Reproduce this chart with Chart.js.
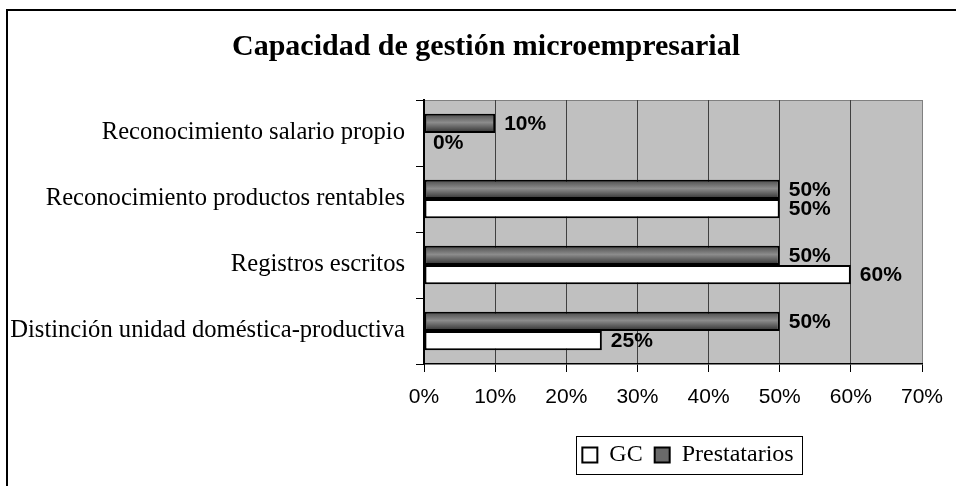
<!DOCTYPE html>
<html lang="es">
<head>
<meta charset="utf-8">
<title>Capacidad de gestión microempresarial</title>
<script src="https://cdn.jsdelivr.net/npm/chart.js"></script>
<style>
    html, body { margin: 0; padding: 0; background: #ffffff; }
    .chart-container { width: 956px; height: 486px; position: relative; }
</style>
</head>
<body>
<div class="chart-container">
    <canvas id="grafica-gestion"></canvas>
</div>
<script>
//Datos de la gráfica
const categorias = [
    'Reconocimiento salario propio',
    'Reconocimiento productos rentables',
    'Registros escritos',
    'Distinción unidad doméstica-productiva'
];
const valoresPrestatarios = [10, 50, 50, 50];
const valoresGC = [0, 50, 60, 25];
const marcasEje = [0, 10, 20, 30, 40, 50, 60, 70];

const PORCENTAJE_CATEGORIA = 0.58;

//Degradado de las barras oscuras, calculado desde la escala
function rellenoPrestatarios(context) {
    const chart = context.chart;
    const escalaY = chart.scales.y;
    if (!escalaY || context.dataIndex === undefined) return '#6a6a6a';
    const centro = escalaY.getPixelForValue(context.dataIndex);
    const banda = escalaY.getPixelForValue(1) - escalaY.getPixelForValue(0);
    const arriba = centro - banda * PORCENTAJE_CATEGORIA / 2;
    const degradado = chart.ctx.createLinearGradient(0, arriba, 0, centro);
    degradado.addColorStop(0, '#4a4a4a');
    degradado.addColorStop(0.45, '#8c8c8c');
    degradado.addColorStop(1, '#2e2e2e');
    return degradado;
}

//Fondo, marco exterior y borde del área de trazado
const pluginFondo = {
    id: 'fondo',
    beforeDraw(chart) {
        const {ctx, chartArea} = chart;
        ctx.save();
        ctx.fillStyle = '#ffffff';
        ctx.fillRect(0, 0, chart.width, chart.height);
        ctx.strokeStyle = '#000000';
        ctx.lineWidth = 2;
        ctx.strokeRect(7, 10, chart.width + 20, chart.height + 20);
        ctx.fillStyle = '#c0c0c0';
        ctx.fillRect(chartArea.left, chartArea.top, chartArea.right - chartArea.left, chartArea.bottom - chartArea.top);
        ctx.strokeStyle = '#808080';
        ctx.lineWidth = 1;
        ctx.beginPath();
        ctx.moveTo(chartArea.left, chartArea.top + 0.5);
        ctx.lineTo(chartArea.right, chartArea.top + 0.5);
        ctx.stroke();
        ctx.restore();
    },
    afterLayout(chart) {
        //La leyenda va algo a la derecha del centro del área
        const leyenda = chart.legend;
        leyenda.left += 15;
        leyenda.right += 15;
        //Que no se recorte la etiqueta más larga
        chart.scales.y.left = 0;
    },
    afterDraw(chart) {
        const cajas = chart.legend.legendHitBoxes;
        if (!cajas || !cajas.length) return;
        const ultima = cajas[cajas.length - 1];
        const ctx = chart.ctx;
        ctx.save();
        ctx.strokeStyle = '#000000';
        ctx.lineWidth = 1;
        const x1 = Math.round(cajas[0].left - 6) + 0.5;
        const x2 = Math.round(ultima.left + ultima.width + 8) + 0.5;
        const y1 = Math.round(cajas[0].top - 7) + 0.5;
        const y2 = Math.round(cajas[0].top + cajas[0].height + 7) + 0.5;
        ctx.strokeRect(x1, y1, x2 - x1, y2 - y1);
        ctx.restore();
    }
};

//Etiquetas de valor junto a cada barra
const pluginEtiquetas = {
    id: 'etiquetasValor',
    afterDatasetsDraw(chart) {
        const ctx = chart.ctx;
        ctx.save();
        ctx.font = 'bold 21px "Liberation Sans", Arial, sans-serif';
        ctx.fillStyle = '#000000';
        ctx.textAlign = 'left';
        ctx.textBaseline = 'middle';
        chart.data.datasets.forEach((dataset, i) => {
            const meta = chart.getDatasetMeta(i);
            meta.data.forEach((barra, j) => {
                ctx.fillText(dataset.data[j] + '%', barra.x + 9, barra.y + 1);
            });
        });
        ctx.restore();
    }
};

document.addEventListener('DOMContentLoaded', function() {
    const ctx = document.getElementById('grafica-gestion').getContext('2d');
    new Chart(ctx, {
        type: 'bar',
        data: {
            labels: categorias,
            datasets: [{
                label: 'Prestatarios',
                data: valoresPrestatarios,
                backgroundColor: rellenoPrestatarios,
                borderColor: '#000000',
                borderWidth: 2,
                borderSkipped: false
            }, {
                label: 'GC',
                data: valoresGC,
                backgroundColor: '#ffffff',
                borderColor: '#000000',
                borderWidth: 2,
                borderSkipped: false
            }]
        },
        options: {
            indexAxis: 'y',
            responsive: true,
            maintainAspectRatio: false,
            animation: false,
            devicePixelRatio: 1,
            categoryPercentage: PORCENTAJE_CATEGORIA,
            barPercentage: 1,
            layout: {
                padding: { left: 16, right: 0, top: 0, bottom: 9 }
            },
            scales: {
                x: {
                    min: marcasEje[0],
                    max: marcasEje[marcasEje.length - 1],
                    afterBuildTicks: escala => {
                        escala.ticks = marcasEje.map(v => ({ value: v }));
                    },
                    afterFit: escala => {
                        escala.height = 67;
                        escala.paddingRight = 34;
                    },
                    ticks: {
                        callback: v => v + '%',
                        color: '#000000',
                        padding: 13,
                        maxRotation: 0,
                        font: { family: '"Liberation Sans", Arial, sans-serif', size: 21 }
                    },
                    grid: {
                        color: c => (c.tick && c.tick.value === 70) ? '#808080' : '#404040',
                        lineWidth: 1,
                        tickColor: '#000000',
                        tickLength: 8
                    },
                    border: { color: '#000000', width: 1.5 }
                },
                y: {
                    afterFit: escala => {
                        escala.width = 408;
                    },
                    ticks: {
                        color: '#000000',
                        padding: 11,
                        font: { family: '"Liberation Serif", "Times New Roman", serif', size: 24.6 }
                    },
                    grid: {
                        drawOnChartArea: false,
                        tickColor: '#000000',
                        tickLength: 8
                    },
                    border: { color: '#000000', width: 2 }
                }
            },
            plugins: {
                title: {
                    display: true,
                    text: 'Capacidad de gestión microempresarial',
                    color: '#000000',
                    font: { family: '"Liberation Serif", "Times New Roman", serif', size: 30, weight: 'bold' },
                    padding: { top: 29, bottom: 35 }
                },
                legend: {
                    position: 'bottom',
                    fullSize: false,
                    reverse: true,
                    labels: {
                        color: '#000000',
                        boxWidth: 15,
                        boxHeight: 15,
                        padding: 12,
                        font: { family: '"Liberation Serif", "Times New Roman", serif', size: 24 },
                        generateLabels: chart => chart.data.datasets.map((d, i) => ({
                            text: d.label,
                            fillStyle: i === 0 ? '#6a6a6a' : '#ffffff',
                            strokeStyle: '#000000',
                            lineWidth: 2,
                            fontColor: '#000000',
                            hidden: false,
                            datasetIndex: i
                        }))
                    }
                },
                tooltip: { enabled: false }
            }
        },
        plugins: [pluginFondo, pluginEtiquetas]
    });
});
</script>
</body>
</html>
